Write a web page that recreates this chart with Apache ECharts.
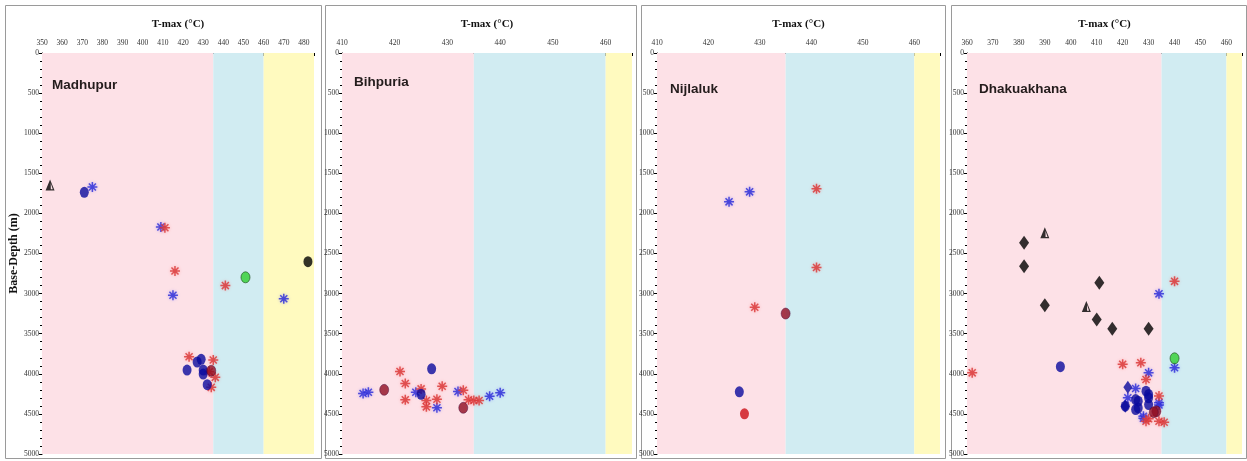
<!DOCTYPE html>
<html>
<head>
<meta charset="utf-8">
<title>T-max vs Base-Depth</title>
<script src="https://cdn.jsdelivr.net/npm/echarts@6/dist/echarts.min.js"></script>
<style>
  html, body { margin: 0; padding: 0; background: #ffffff; }
  #chart { width: 1247px; height: 461px; }
</style>
</head>
<body>
<div id="chart"></div>
<script>
// Wells, in panel order
const sites = ['Madhupur', 'Bihpuria', 'Nijlaluk', 'Dhakuakhana'];

// T-max axis range of each panel (°C)
const tmaxMin = [350, 410, 410, 360];
const tmaxMax = [485, 465, 465, 466];
const tmaxStep = 10;

// Base-depth axis (m)
const depthMin = 0;
const depthMax = 5000;
const depthStep = 500;

// Maturity zone boundaries on T-max (°C): immature | oil window | gas
const zoneEdges = [435, 460];

// Samples as [T-max °C, base depth m], one list per well and marker kind
const madhupurBlueStar  = [[375, 1670], [409, 2170], [415, 3020], [470, 3065]];
const madhupurRedStar   = [[411, 2178], [416, 2718], [441, 2900], [423, 3787], [435, 3828], [433, 3974], [436, 4044], [434, 4169]];
const madhupurNavyDot   = [[371, 1737], [422, 3953], [427, 3853], [429, 3820], [430, 3953], [430, 4003], [432, 4136]];
const madhupurMaroonDot = [[434, 3962]];
const madhupurGreenDot  = [[451, 2797]];
const madhupurBlackDot  = [[482, 2602]];
const madhupurTriangle  = [[354, 1646]];

const bihpuriaBlueStar  = [[414, 4246], [415, 4230], [424, 4230], [428, 4424], [432, 4221], [438, 4280], [440, 4237]];
const bihpuriaRedStar   = [[421, 3972], [422, 4121], [422, 4325], [425, 4188], [426, 4333], [426, 4412], [428, 4317],
                           [429, 4155], [433, 4205], [434, 4325], [435, 4333], [436, 4333]];
const bihpuriaNavyDot   = [[425, 4255], [427, 3938]];
const bihpuriaMaroonDot = [[418, 4200], [433, 4424]];

const nijlalukBlueStar  = [[424, 1856], [428, 1731]];
const nijlalukRedStar   = [[441, 1694], [441, 2675], [429, 3170]];
const nijlalukNavyDot   = [[426, 4225]];
const nijlalukMaroonDot = [[435, 3249]];
const nijlalukRedDot    = [[427, 4499]];

const dhakuakhanaBlueStar  = [[434, 3003], [440, 3924], [430, 3988], [425, 4184], [422, 4300], [434, 4362], [434, 4389],
                              [428, 4529], [428, 4555]];
const dhakuakhanaRedStar   = [[362, 3988], [440, 2847], [420, 3882], [427, 3863], [429, 4071], [434, 4276],
                              [430, 4560], [429, 4591], [434, 4591], [436, 4604]];
const dhakuakhanaNavyDot   = [[396, 3911], [429, 4217], [430, 4258], [425, 4321], [426, 4342], [430, 4300],
                              [430, 4383], [426, 4425], [425, 4446], [421, 4404]];
const dhakuakhanaNavyDiamond = [[422, 4167], [421, 4404]];
const dhakuakhanaMaroonDot = [[433, 4467], [432, 4479]];
const dhakuakhanaGreenDot  = [[440, 3807]];
const dhakuakhanaDiamond   = [[382, 2367], [382, 2658], [390, 3145], [411, 2866], [410, 3323], [416, 3439], [430, 3439]];
const dhakuakhanaTriangle  = [[390, 2242], [406, 3162]];

// ---- drawing ----
const gridLeft  = [42, 342, 657, 967];
const gridWidth = [272, 290, 283, 275];
const gridTop = 53;
const gridHeight = 401;
const panelBox = [[5, 316], [325, 311], [641, 304], [951, 295]];
const siteLabelPos = [[52, 85], [354, 82], [670, 89], [979, 89]];

const zoneColors = ['#fde1e7', '#d1ecf2', '#fffabf'];

const STAR = 'path://M8.5 0L11.5 0L11.5 20L8.5 20Z M0 8.5L20 8.5L20 11.5L0 11.5Z M1.9 4L4 1.9L18.1 16L16 18.1Z M16 1.9L18.1 4L4 18.1L1.9 16Z';
const TRIANGLE = 'path://M5 0L10 12L0 12Z M5.8 4L5.8 10.5L8 10.5Z';

const markerStyles = {
  blueStar:    { symbol: STAR, symbolSize: 10, itemStyle: { color: '#2b2bd6', shadowColor: 'rgba(110,110,255,0.6)', shadowBlur: 3 } },
  redStar:     { symbol: STAR, symbolSize: 10, itemStyle: { color: '#d83434', shadowColor: 'rgba(255,110,110,0.6)', shadowBlur: 3 } },
  navyDot:     { symbol: 'circle', symbolSize: [9, 11], itemStyle: { color: '#0a0a9e' } },
  navyDiamond: { symbol: 'diamond', symbolSize: [9, 13], itemStyle: { color: '#0a0a9e' } },
  maroonDot:   { symbol: 'circle', symbolSize: [9, 11], itemStyle: { color: '#8e0c22', borderColor: '#4a0a3a', borderWidth: 0.6 } },
  redDot:      { symbol: 'circle', symbolSize: [9, 11], itemStyle: { color: '#cc1018' } },
  greenDot:    { symbol: 'circle', symbolSize: [9, 11], itemStyle: { color: '#2fd02f', borderColor: '#1a4a1a', borderWidth: 0.8 } },
  blackDot:    { symbol: 'circle', symbolSize: [9, 11], itemStyle: { color: '#000000' } },
  diamond:     { symbol: 'diamond', symbolSize: [10, 14], itemStyle: { color: '#000000' } },
  triangle:    { symbol: TRIANGLE, symbolSize: [9, 11], itemStyle: { color: '#000000' } }
};

const panelSeries = [
  { blueStar: madhupurBlueStar, redStar: madhupurRedStar, navyDot: madhupurNavyDot, maroonDot: madhupurMaroonDot,
    greenDot: madhupurGreenDot, blackDot: madhupurBlackDot, triangle: madhupurTriangle },
  { blueStar: bihpuriaBlueStar, redStar: bihpuriaRedStar, navyDot: bihpuriaNavyDot, maroonDot: bihpuriaMaroonDot },
  { blueStar: nijlalukBlueStar, redStar: nijlalukRedStar, navyDot: nijlalukNavyDot, maroonDot: nijlalukMaroonDot,
    redDot: nijlalukRedDot },
  { blueStar: dhakuakhanaBlueStar, redStar: dhakuakhanaRedStar, diamond: dhakuakhanaDiamond, triangle: dhakuakhanaTriangle,
    navyDot: dhakuakhanaNavyDot, navyDiamond: dhakuakhanaNavyDiamond, maroonDot: dhakuakhanaMaroonDot,
    greenDot: dhakuakhanaGreenDot }
];

const tickFont = { fontFamily: 'Liberation Serif', fontSize: 7.5, color: '#333' };

const grids = [], xAxes = [], yAxes = [], series = [], graphics = [];

sites.forEach((site, i) => {
  grids.push({ left: gridLeft[i], top: gridTop, width: gridWidth[i], height: gridHeight, containLabel: false });

  xAxes.push({
    gridIndex: i, type: 'value', position: 'top',
    min: tmaxMin[i], max: tmaxMax[i], interval: tmaxStep,
    name: 'T-max (°C)', nameLocation: 'middle', nameGap: 23,
    nameTextStyle: { fontFamily: 'Liberation Serif', fontWeight: 'bold', fontSize: 11, color: '#111' },
    axisLine: { show: true, onZero: false, lineStyle: { color: '#000', width: 1 } },
    axisTick: { show: true, inside: true, length: 3, lineStyle: { color: '#000' } },
    minorTick: { show: true, splitNumber: 5, length: 2, lineStyle: { color: '#000' } },
    axisLabel: Object.assign({ margin: 6, showMaxLabel: false, formatter: v => String(v) }, tickFont),
    splitLine: { show: false }
  });

  yAxes.push({
    gridIndex: i, type: 'value', inverse: true,
    min: depthMin, max: depthMax, interval: depthStep,
    name: i === 0 ? 'Base-Depth (m)' : '', nameLocation: 'middle', nameRotate: 90, nameGap: 18,
    nameTextStyle: { fontFamily: 'Liberation Serif', fontWeight: 'bold', fontSize: 12, color: '#111' },
    axisLine: { show: true, onZero: false, lineStyle: { color: '#000', width: 1 } },
    axisTick: { show: true, length: 3, lineStyle: { color: '#000' } },
    minorTick: { show: true, splitNumber: 5, length: 2, lineStyle: { color: '#000' } },
    axisLabel: Object.assign({ margin: 3, formatter: v => String(v) }, tickFont),
    splitLine: { show: false }
  });

  // maturity zones as background bands
  const edges = [tmaxMin[i], zoneEdges[0], zoneEdges[1], tmaxMax[i]];
  series.push({
    type: 'scatter', xAxisIndex: i, yAxisIndex: i, data: [], silent: true, z: 1,
    markArea: {
      silent: true,
      data: [0, 1, 2].map(k => [
        { xAxis: edges[k], yAxis: depthMin, itemStyle: { color: zoneColors[k] } },
        { xAxis: edges[k + 1], yAxis: depthMax }
      ])
    }
  });

  const groups = panelSeries[i];
  Object.keys(groups).forEach(kind => {
    const st = markerStyles[kind];
    series.push({
      type: 'scatter', xAxisIndex: i, yAxisIndex: i, z: 3,
      symbol: st.symbol, symbolSize: st.symbolSize, itemStyle: st.itemStyle,
      data: groups[kind], silent: true
    });
  });

  // panel frame
  graphics.push({
    type: 'rect', z: 0, silent: true,
    shape: { x: panelBox[i][0] + 0.5, y: 5.5, width: panelBox[i][1], height: 453 },
    style: { fill: 'none', stroke: '#9a9a9a', lineWidth: 1 }
  });
  // well name
  graphics.push({
    type: 'text', z: 10, silent: true,
    x: siteLabelPos[i][0], y: siteLabelPos[i][1],
    style: {
      text: site, fill: '#241c1c', font: 'bold 13.5px "Liberation Sans", Arial, sans-serif',
      textVerticalAlign: 'middle', textAlign: 'left'
    }
  });
});

const chart = echarts.init(document.getElementById('chart'), null, { renderer: 'canvas' });
chart.setOption({
  animation: false,
  backgroundColor: '#ffffff',
  grid: grids,
  xAxis: xAxes,
  yAxis: yAxes,
  series: series,
  graphic: graphics
});
</script>
</body>
</html>
